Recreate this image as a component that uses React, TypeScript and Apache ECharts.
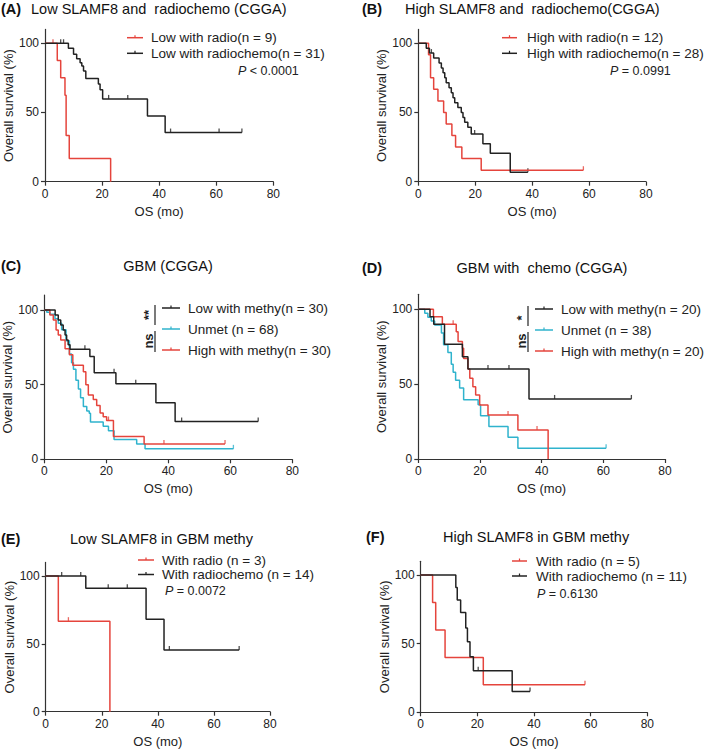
import React, { useEffect, useRef } from "react";
import * as echarts from "echarts";

const RED = "#e5443c";
const BLACK = "#222222";
const CYAN = "#2fb3cd";
const AXIS = "#333333";
const FONT = "'Liberation Sans', Arial, Helvetica, sans-serif";

// ---------- data (months, survival %) ----------
// Panel A
const aRadioT = [4.3, 5.5, 7.0, 7.4, 8.5, 23];
const aRadioS = [87.5, 75, 62.5, 33.3, 16.7, 0];
const aRadioCens = [2.8];
const aChemoT = [8.2, 10.0, 11.1, 12.3, 12.9, 13.5, 14.3, 18.7, 19.3, 20.2, 35.9, 42.1];
const aChemoS = [96.4, 92.0, 88.8, 86.0, 83.5, 80.0, 74.5, 70.5, 66.5, 59.8, 47.5, 35.5];
const aChemoCens = [5.5, 6.5, 22.3, 29, 44, 61, 69];
// Panel B
const bRadioT = [3.6, 4.3, 5.4, 6.9, 8.9, 9.8, 11.8, 13.1, 15.3, 22.1];
const bRadioS = [91.7, 75, 66.7, 58.3, 50, 41.7, 33.3, 25, 16.7, 8.3];
const bRadioCens = [58];
const bChemoT = [2.8, 3.9, 5.4, 7.3, 8.1, 8.7, 9.3, 9.8, 10.8, 11.6, 12.2, 12.8, 13.9, 15.1, 15.7, 16.3, 17.4, 18.6, 22.7, 25.3, 32.3];
const bChemoS = [96.4, 92.9, 89.3, 85.7, 82.1, 78.6, 75.0, 71.4, 67.9, 64.3, 60.7, 57.1, 53.6, 50.0, 46.4, 42.9, 39.3, 34.5, 27.4, 20.5, 6.8];
const bChemoCens = [4.6, 19.8, 38.5];
// Panel C
const cLowT = [3.5, 4.5, 5.3, 6.1, 6.7, 7.2, 7.7, 8.3, 14.7, 16.1, 23.1, 36.0, 42.2];
const cLowS = [96.7, 93.3, 90.0, 86.7, 83.3, 80.0, 76.7, 73.8, 68.8, 57.9, 50.6, 37.9, 25.3];
const cLowCens = [13.1, 22.5, 29.5, 44.3, 69];
const cUnT = [0.8, 1.8, 3.45, 4.5, 5.6, 7.0, 8.1, 8.8, 9.4, 10.2, 11.0, 11.7, 12.6, 13.7, 14.5, 14.9, 19.0, 20.7, 22.5, 29.8, 32.5];
const cUnS = [98.5, 97.1, 94.1, 91.2, 86.8, 79.4, 70.6, 64.7, 60.3, 52.9, 47.1, 41.2, 35.3, 32.4, 30.9, 25.0, 22.1, 19.1, 13.2, 10.3, 7.0];
const cUnCens = [61];
const cHighT = [1.8, 2.9, 3.8, 4.5, 5.3, 6.7, 8.1, 9.2, 12.6, 13.4, 14.2, 15.8, 16.9, 18.0, 19.0, 20.1, 22.3, 32.2];
const cHighS = [96.7, 93.3, 86.7, 83.3, 80.0, 74.0, 70.0, 63.0, 58.7, 50.0, 43.0, 40.0, 36.0, 31.0, 28.5, 26.0, 15.2, 10.3];
const cHighCens = [20.7, 38.6, 58.3];
// Panel D
const dLowT = [3.8, 5.0, 8.5, 14.3, 16.1, 35.9];
const dLowS = [95, 90, 76.6, 68.3, 60.1, 40.1];
const dLowCens = [22.6, 29.4, 44.2, 69.1];
const dUnT = [2.1, 3.1, 4.2, 5.3, 7.5, 8.2, 9.6, 10.7, 11.3, 12.1, 13.4, 14.7, 19.4, 20.2, 22.9, 29.1, 32.3];
const dUnS = [97.4, 94.7, 92.1, 89.5, 84.2, 76.3, 71.1, 63.2, 57.9, 52.6, 47.4, 39.5, 36.2, 28.9, 21.7, 14.5, 7.2];
const dUnCens = [60.9];
const dHighT = [4.9, 7.8, 12.3, 12.9, 14.3, 14.7, 16.1, 16.7, 17.7, 18.6, 19.9, 22.6, 32.3, 42.1];
const dHighS = [95, 90, 85, 78.4, 74, 67.2, 60.1, 53.9, 48.3, 42.8, 36.1, 29.4, 19.4, 0];
const dHighCens = [11.3, 29.1, 38.5];
// Panel E
const eRadioT = [4.5, 22.9];
const eRadioS = [66.7, 0];
const eRadioCens = [8.1];
const eChemoT = [14.3, 35.8, 42.2];
const eChemoS = [90.9, 68.2, 45.5];
const eChemoCens = [5.7, 12.5, 22.3, 29.1, 44.1, 69];
// Panel F
const fRadioT = [4.2, 5.3, 8.6, 22.1];
const fRadioS = [80, 60, 40, 20];
const fRadioCens = [58];
const fChemoT = [12.4, 12.9, 14.1, 15.9, 16.5, 17.4, 18.6, 32.3];
const fChemoS = [90.9, 81.8, 72.7, 61.4, 51.4, 40.5, 30.3, 15.2];
const fChemoCens = [20.3, 38.6];

const xTicks = [0, 20, 40, 60, 80];
const yTicks = [0, 50, 100];

// ---------- panels ----------
type Curve = { color: string; t: number[]; s: number[]; cens: number[]; label: string };
type Panel = {
  letter: string; title: string; letterX: number; titleX: number; titleY: number; titleAlign?: string;
  grid: { left: number; top: number; width: number; height: number };
  yNameGap: number;
  curves: Curve[]; // drawing order
  legendOrder: number[];
  legend: { x1: number; x2: number; tx: number; rows: number[] };
  p?: { text: string; x: number; y: number };
  bracket?: { x: number; segs: number[][]; labels: { text: string; y: number }[] };
};

const panels: Panel[] = [
  {
    letter: "(A)", title: "Low SLAMF8 and  radiochemo (CGGA)", letterX: 1, titleX: 31, titleY: 9,
    grid: { left: 45, top: 29.4, width: 228.3, height: 152.3 }, yNameGap: 27,
    curves: [
      { color: RED, t: aRadioT, s: aRadioS, cens: aRadioCens, label: "Low with radio(n = 9)" },
      { color: BLACK, t: aChemoT, s: aChemoS, cens: aChemoCens, label: "Low with radiochemo(n = 31)" },
    ],
    legendOrder: [0, 1],
    legend: { x1: 127, x2: 143, tx: 151, rows: [37.7, 53.3] },
    p: { text: "{i|P} < 0.0001", x: 238, y: 71 },
  },
  {
    letter: "(B)", title: "High SLAMF8 and  radiochemo(CGGA)", letterX: 362, titleX: 405, titleY: 9,
    grid: { left: 418.3, top: 29.4, width: 227.7, height: 152.3 }, yNameGap: 27,
    curves: [
      { color: RED, t: bRadioT, s: bRadioS, cens: bRadioCens, label: "High with radio(n = 12)" },
      { color: BLACK, t: bChemoT, s: bChemoS, cens: bChemoCens, label: "High with radiochemo(n = 28)" },
    ],
    legendOrder: [0, 1],
    legend: { x1: 502, x2: 517, tx: 527, rows: [37.7, 53.3] },
    p: { text: "{i|P} = 0.0991", x: 610, y: 71 },
  },
  {
    letter: "(C)", title: "GBM (CGGA)", letterX: 1, titleX: 168, titleY: 266, titleAlign: "center",
    grid: { left: 44.3, top: 295.1, width: 248, height: 164.2 }, yNameGap: 29,
    curves: [
      { color: CYAN, t: cUnT, s: cUnS, cens: cUnCens, label: "Unmet (n = 68)" },
      { color: RED, t: cHighT, s: cHighS, cens: cHighCens, label: "High with methy(n = 30)" },
      { color: BLACK, t: cLowT, s: cLowS, cens: cLowCens, label: "Low with methy(n = 30)" },
    ],
    legendOrder: [2, 0, 1],
    legend: { x1: 162, x2: 180, tx: 188, rows: [308, 329, 350] },
    bracket: { x: 155, segs: [[305, 325], [331, 352]], labels: [{ text: "**", y: 315 }, { text: "ns", y: 341 }] },
  },
  {
    letter: "(D)", title: "GBM with  chemo (CGGA)", letterX: 362, titleX: 542, titleY: 268, titleAlign: "center",
    grid: { left: 418.3, top: 294.3, width: 246.7, height: 164.7 }, yNameGap: 29,
    curves: [
      { color: CYAN, t: dUnT, s: dUnS, cens: dUnCens, label: "Unmet (n = 38)" },
      { color: RED, t: dHighT, s: dHighS, cens: dHighCens, label: "High with methy(n = 20)" },
      { color: BLACK, t: dLowT, s: dLowS, cens: dLowCens, label: "Low with methy(n = 20)" },
    ],
    legendOrder: [2, 0, 1],
    legend: { x1: 535, x2: 553, tx: 561, rows: [309, 330, 351] },
    bracket: { x: 528, segs: [[306, 326], [332, 352]], labels: [{ text: "*", y: 318 }, { text: "ns", y: 341 }] },
  },
  {
    letter: "(E)", title: "Low SLAMF8 in GBM methy", letterX: 1, titleX: 70, titleY: 539,
    grid: { left: 45.7, top: 562.4, width: 224.3, height: 149.3 }, yNameGap: 26,
    curves: [
      { color: RED, t: eRadioT, s: eRadioS, cens: eRadioCens, label: "With radio (n = 3)" },
      { color: BLACK, t: eChemoT, s: eChemoS, cens: eChemoCens, label: "With radiochemo (n = 14)" },
    ],
    legendOrder: [0, 1],
    legend: { x1: 138, x2: 154, tx: 162, rows: [560, 574.5] },
    p: { text: "{i|P} = 0.0072", x: 165, y: 591 },
  },
  {
    letter: "(F)", title: "High SLAMF8 in GBM methy", letterX: 366, titleX: 443, titleY: 537,
    grid: { left: 420.7, top: 561.3, width: 226.6, height: 151 }, yNameGap: 29,
    curves: [
      { color: RED, t: fRadioT, s: fRadioS, cens: fRadioCens, label: "With radio (n = 5)" },
      { color: BLACK, t: fChemoT, s: fChemoS, cens: fChemoCens, label: "With radiochemo (n = 11)" },
    ],
    legendOrder: [0, 1],
    legend: { x1: 512, x2: 527, tx: 536, rows: [561, 576] },
    p: { text: "{i|P} = 0.6130", x: 537, y: 594 },
  },
];

function stepPoints(t: number[], s: number[], cens: number[]) {
  const pts: number[][] = [[0, 100]];
  let prev = 100;
  for (let i = 0; i < t.length; i++) {
    pts.push([t[i], prev]);
    pts.push([t[i], s[i]]);
    prev = s[i];
  }
  const lastT = t[t.length - 1];
  const maxC = Math.max(...cens);
  if (prev > 0 && maxC > lastT) pts.push([maxC, prev]);
  return pts;
}
function survAt(t: number[], s: number[], x: number) {
  let v = 100;
  for (let i = 0; i < t.length; i++) if (t[i] <= x) v = s[i];
  return v;
}

function buildOption() {
  const grid: any[] = [];
  const xAxis: any[] = [];
  const yAxis: any[] = [];
  const series: any[] = [];
  const graphic: any[] = [];
  const axisCommon = {
    axisLine: { show: true, onZero: false, lineStyle: { color: AXIS, width: 1.2 } },
    axisTick: { show: true, inside: false, length: 4, lineStyle: { color: AXIS, width: 1.2 } },
    splitLine: { show: false },
    nameLocation: "middle",
    nameTextStyle: { fontSize: 13, color: "#222", fontFamily: FONT },
  };
  panels.forEach((p, gi) => {
    grid.push({ ...p.grid, outerBoundsMode: "none", containLabel: false });
    xAxis.push({
      ...axisCommon, gridIndex: gi, type: "value", min: 0, max: 80, interval: 20,
      name: "OS (mo)", nameGap: 23,
      axisLabel: { fontSize: 12, color: "#222", fontFamily: FONT, margin: 6, customValues: xTicks },
      axisTick: { ...axisCommon.axisTick, customValues: xTicks },
    });
    yAxis.push({
      ...axisCommon, gridIndex: gi, type: "value", min: 0, max: 110, interval: 50,
      name: "Overall survival (%)", nameGap: p.yNameGap,
      axisLabel: { fontSize: 12, color: "#222", fontFamily: FONT, margin: 6, customValues: yTicks },
      axisTick: { ...axisCommon.axisTick, customValues: yTicks },
    });
    p.curves.forEach((c) => {
      series.push({
        type: "line", xAxisIndex: gi, yAxisIndex: gi, data: stepPoints(c.t, c.s, c.cens),
        showSymbol: false, symbol: "none", lineStyle: { color: c.color, width: 1.5 }, silent: true,
      });
      series.push({
        type: "scatter", xAxisIndex: gi, yAxisIndex: gi,
        data: c.cens.map((x) => [x, survAt(c.t, c.s, x)]),
        symbol: "rect", symbolSize: [1.3, 4], symbolOffset: [0, -2], itemStyle: { color: c.color }, silent: true,
      });
    });
    // titles
    graphic.push({
      type: "text", x: p.letterX, y: p.titleY,
      style: { text: p.letter, font: `bold 14.5px ${FONT}`, fill: "#111", verticalAlign: "middle", align: "left" },
    });
    graphic.push({
      type: "text", x: p.titleX, y: p.titleY,
      style: { text: p.title, font: `14.5px ${FONT}`, fill: "#111", verticalAlign: "middle", align: p.titleAlign || "left" },
    });
    // legend
    p.legendOrder.forEach((ci, ri) => {
      const c = p.curves[ci];
      const y = p.legend.rows[ri];
      graphic.push({
        type: "line", shape: { x1: p.legend.x1, y1: y, x2: p.legend.x2, y2: y },
        style: { stroke: c.color, lineWidth: 1.5 },
      });
      const mx = (p.legend.x1 + p.legend.x2) / 2;
      graphic.push({
        type: "line", shape: { x1: mx, y1: y - 2.5, x2: mx, y2: y },
        style: { stroke: c.color, lineWidth: 1.2 },
      });
      graphic.push({
        type: "text", x: p.legend.tx, y,
        style: { text: c.label, font: `13.5px ${FONT}`, fill: "#222", verticalAlign: "middle", align: "left" },
      });
    });
    if (p.p) {
      graphic.push({
        type: "text", x: p.p.x, y: p.p.y,
        style: {
          text: p.p.text, font: `12.5px ${FONT}`, fill: "#222", verticalAlign: "middle", align: "left",
          rich: { i: { fontStyle: "italic", fontSize: 12.5, fontFamily: FONT, fill: "#222" } },
        },
      });
    }
    if (p.bracket) {
      const b = p.bracket;
      b.segs.forEach((sg) => {
        graphic.push({
          type: "line", shape: { x1: b.x, y1: sg[0], x2: b.x, y2: sg[1] },
          style: { stroke: "#222", lineWidth: 1.2 },
        });
      });
      b.labels.forEach((l) => {
        graphic.push({
          type: "text", x: b.x - 7, y: l.y, rotation: Math.PI / 2,
          style: { text: l.text, font: `bold 13px ${FONT}`, fill: "#222", verticalAlign: "middle", align: "center" },
        });
      });
    }
  });
  return {
    animation: false,
    backgroundColor: "#ffffff",
    grid, xAxis, yAxis, series, graphic,
  };
}

export default function App() {
  const ref = useRef<HTMLDivElement>(null);
  useEffect(() => {
    if (!ref.current) return;
    const chart = echarts.init(ref.current, undefined, { renderer: "svg" });
    chart.setOption(buildOption() as any);
    return () => chart.dispose();
  }, []);
  return (
    <div
      ref={ref}
      style={{ position: "fixed", left: 0, top: 0, width: 709, height: 751, background: "#fff" }}
    />
  );
}
